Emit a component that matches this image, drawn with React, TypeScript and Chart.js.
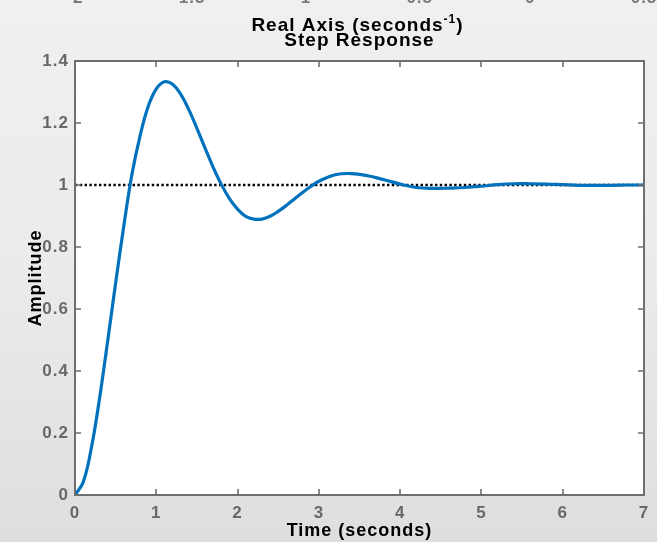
import React, { useEffect, useRef } from "react";
import { Chart, registerables } from "chart.js";

Chart.register(...registerables);

// ---- data ----
const timeSeconds = [
  0, 0.1, 0.2, 0.3, 0.4, 0.5, 0.6, 0.7, 0.8, 0.9, 1.0, 1.1, 1.2, 1.3, 1.4, 1.5,
  1.6, 1.7, 1.8, 1.9, 2.0, 2.1, 2.2, 2.3, 2.4, 2.5, 2.6, 2.7, 2.8, 2.9, 3.0,
  3.2, 3.4, 3.6, 3.8, 4.0, 4.2, 4.4, 4.6, 4.8, 5.0, 5.2, 5.4, 5.6, 5.8, 6.0,
  6.2, 6.4, 6.6, 6.8, 7.0,
];
const amplitude = [
  0, 0.041, 0.15, 0.308, 0.493, 0.684, 0.867, 1.034, 1.158, 1.253, 1.31, 1.333,
  1.325, 1.293, 1.243, 1.183, 1.119, 1.057, 1.002, 0.956, 0.922, 0.899, 0.89,
  0.89, 0.899, 0.915, 0.934, 0.955, 0.976, 0.995, 1.012, 1.033, 1.037, 1.03,
  1.017, 1.003, 0.992, 0.989, 0.99, 0.992, 0.996, 1.001, 1.004, 1.004, 1.003,
  1.001, 0.999, 0.999, 0.999, 1.0, 1.0,
];
const steadyStateTimes = [0, 7];
const steadyStateValues = [1, 1];
const xTickValues = [0, 1, 2, 3, 4, 5, 6, 7];
const yTickValues = [0, 0.2, 0.4, 0.6, 0.8, 1.0, 1.2, 1.4];
const realAxisTickValues = [-2, -1.5, -1, -0.5, 0, 0.5];
const titleText = "Step Response";
const realAxisTitle = "Real Axis (seconds";
const realAxisSup = "-1";
const xAxisTitle = "Time (seconds)";
const yAxisTitle = "Amplitude";

const FONT = "'Liberation Sans', Arial, Helvetica, sans-serif";
const AXIS_GRAY = "#6f6f6f";
const TICK_GRAY = "#686868";

const decorPlugin = {
  id: "matlabDecor",
  beforeDraw(chart: any) {
    const { ctx, width, height, chartArea } = chart;
    ctx.letterSpacing = "1px";
    ctx.save();
    const g = ctx.createLinearGradient(0, 0, 0, height);
    g.addColorStop(0, "#f0f0f0");
    g.addColorStop(0.5, "#ebebeb");
    g.addColorStop(1, "#dedede");
    ctx.fillStyle = g;
    ctx.fillRect(0, 0, width, height);
    ctx.fillStyle = "#ffffff";
    ctx.fillRect(
      chartArea.left,
      chartArea.top,
      chartArea.right - chartArea.left,
      chartArea.bottom - chartArea.top
    );
    ctx.restore();
  },
  afterDraw(chart: any) {
    const { ctx, chartArea } = chart;
    const { left, right, top, bottom } = chartArea;
    const xs = chart.scales.x;
    const ys = chart.scales.y;
    const xr = chart.scales.xReal;
    ctx.save();
    ctx.letterSpacing = "1px";
    // box
    ctx.strokeStyle = AXIS_GRAY;
    ctx.lineWidth = 2;
    ctx.strokeRect(left, top, right - left, bottom - top);
    // inward ticks
    ctx.lineWidth = 1.6;
    const tl = 6;
    ctx.beginPath();
    xTickValues.forEach((v) => {
      const px = Math.round(xs.getPixelForValue(v));
      ctx.moveTo(px, bottom);
      ctx.lineTo(px, bottom - tl);
      ctx.moveTo(px, top);
      ctx.lineTo(px, top + tl);
    });
    yTickValues.forEach((v) => {
      const py = Math.round(ys.getPixelForValue(v));
      ctx.moveTo(left, py);
      ctx.lineTo(left + tl, py);
      ctx.moveTo(right, py);
      ctx.lineTo(right - tl, py);
    });
    ctx.stroke();

    // clipped labels of a previous plot at the very top
    ctx.fillStyle = "#7a7a7a";
    ctx.font = `bold 17px ${FONT}`;
    ctx.textAlign = "center";
    ctx.textBaseline = "alphabetic";
    realAxisTickValues.forEach((v) => {
      ctx.fillText(String(v), xr.getPixelForValue(v), 2.5);
    });

    // overlapping titles
    ctx.fillStyle = "#000000";
    const cx = (left + right) / 2;
    ctx.font = `bold 19px ${FONT}`;
    const w1 = ctx.measureText(realAxisTitle).width;
    const wp = ctx.measureText(")").width;
    ctx.font = `bold 12px ${FONT}`;
    const ws = ctx.measureText(realAxisSup).width;
    const total = w1 + ws + wp;
    let x0 = cx - total / 2 - 2;
    ctx.textAlign = "left";
    ctx.font = `bold 19px ${FONT}`;
    ctx.fillText(realAxisTitle, x0, 31);
    ctx.font = `bold 12px ${FONT}`;
    ctx.fillText(realAxisSup, x0 + w1, 23);
    ctx.font = `bold 19px ${FONT}`;
    ctx.fillText(")", x0 + w1 + ws, 31);

    ctx.textAlign = "center";
    ctx.fillText(titleText, cx, 45.5);
    ctx.restore();
  },
};

export default function App() {
  const canvasRef = useRef<HTMLCanvasElement | null>(null);

  useEffect(() => {
    document.body.style.margin = "0";
    const canvas = canvasRef.current;
    if (!canvas) return;
    const chart = new Chart(canvas, {
      type: "line",
      data: {
        datasets: [
          {
            label: "Step",
            data: timeSeconds.map((t, i) => ({ x: t, y: amplitude[i] })),
            borderColor: "#0072BD",
            borderWidth: 3.2,
            pointRadius: 0,
            tension: 0.4,
            borderCapStyle: "round",
            borderJoinStyle: "round",
            fill: false,
            order: 0,
          },
          {
            label: "Final value",
            data: steadyStateTimes.map((t, i) => ({ x: t, y: steadyStateValues[i] })),
            borderColor: "#000000",
            borderWidth: 2.4,
            borderDash: [2.4, 2.4],
            pointRadius: 0,
            fill: false,
            order: 1,
          },
        ],
      },
      options: {
        responsive: false,
        animation: false,
        layout: { padding: { top: 61, right: 13, left: 0, bottom: 0 } },
        plugins: {
          legend: { display: false },
          tooltip: { enabled: false },
          title: { display: false },
        },
        scales: {
          x: {
            type: "linear",
            position: "bottom",
            min: 0,
            max: 7,
            grid: { display: false, drawTicks: false },
            border: { display: false },
            afterBuildTicks: (s: any) => {
              s.ticks = xTickValues.map((v) => ({ value: v }));
            },
            afterFit: (s: any) => {
              s.height = 47;
            },
            ticks: {
              color: TICK_GRAY,
              font: { family: FONT, size: 17, weight: "bold" },
              padding: 8,
              maxRotation: 0,
              autoSkip: false,
              callback: (v: any) => String(v),
            },
            title: {
              display: true,
              text: xAxisTitle,
              color: "#000000",
              font: { family: FONT, size: 18, weight: "bold" },
              padding: { top: 0, bottom: 0 },
            },
          },
          xReal: {
            type: "linear",
            position: "top",
            min: -2,
            max: 0.5,
            display: false,
          },
          y: {
            type: "linear",
            position: "left",
            min: 0,
            max: 1.4,
            grid: { display: false, drawTicks: false },
            border: { display: false },
            afterBuildTicks: (s: any) => {
              s.ticks = yTickValues.map((v) => ({ value: v }));
            },
            afterFit: (s: any) => {
              s.width = 75;
            },
            ticks: {
              color: TICK_GRAY,
              font: { family: FONT, size: 17, weight: "bold" },
              padding: 6,
              autoSkip: false,
              callback: (v: any) => String(Math.round(v * 10) / 10),
            },
            title: {
              display: true,
              text: yAxisTitle,
              color: "#000000",
              font: { family: FONT, size: 18, weight: "bold" },
              padding: { top: 25, bottom: 0 },
            },
          },
        },
      },
      plugins: [decorPlugin],
    } as any);
    return () => chart.destroy();
  }, []);

  return (
    <div style={{ width: 657, height: 542 }}>
      <canvas ref={canvasRef} width={657} height={542} style={{ display: "block" }} />
    </div>
  );
}
